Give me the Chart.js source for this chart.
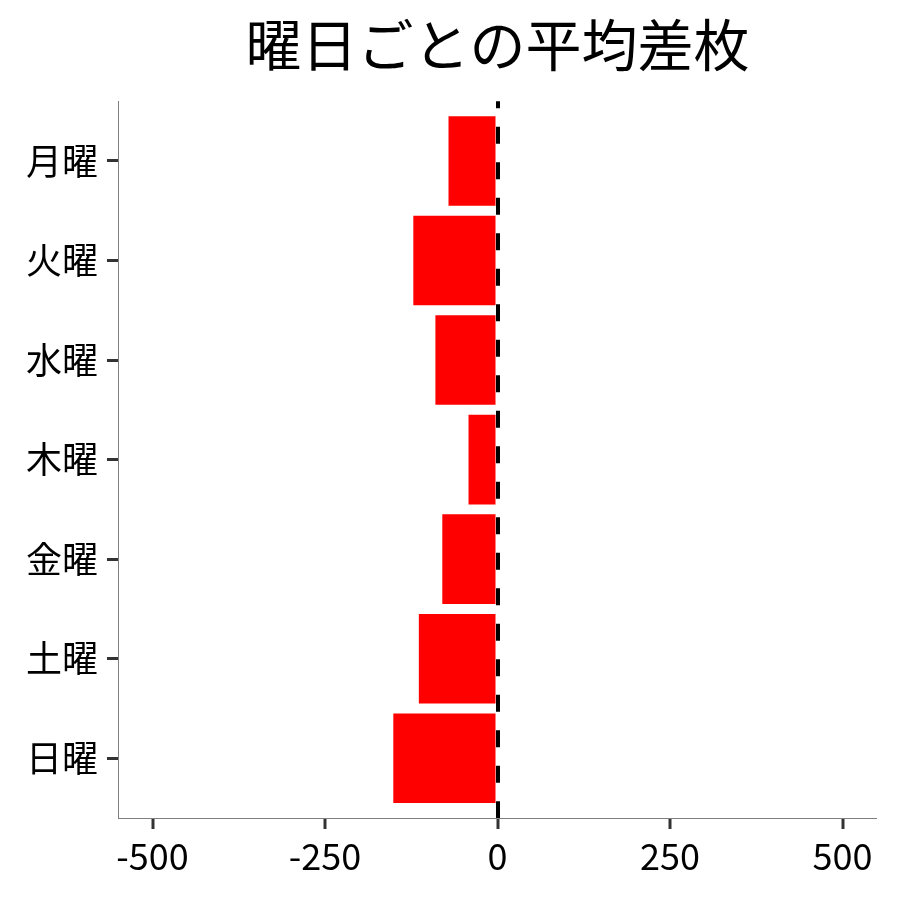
<!DOCTYPE html>
<html>
<head>
<meta charset="utf-8">
<script src="https://cdn.jsdelivr.net/npm/chart.js@4"></script>
<style>
  body { margin: 0; background: #fff; }
  canvas { display: block; }
</style>
</head>
<body>
<canvas id="diffChart" width="900" height="900"></canvas>
<script>
const days = ['月曜', '火曜', '水曜', '木曜', '金曜', '土曜', '日曜'];
const avgDiff = [-71, -122, -90, -42, -80, -114, -151];
const xTicks = [-500, -250, 0, 250, 500];

const FONT = "'Noto Sans CJK JP', 'Noto Sans', sans-serif";

window.onload = () => {
  const ctx = document.getElementById('diffChart').getContext('2d');

  new Chart(ctx, {
    type: 'bar',
    data: {
      datasets: [{
        data: avgDiff.map((v, i) => ({ x: v, y: i })),
        backgroundColor: '#ff0000',
        borderWidth: 0,
        barPercentage: 0.9,
        categoryPercentage: 1
      }]
    },
    options: {
      indexAxis: 'y',
      responsive: false,
      animation: false,
      devicePixelRatio: 1,
      layout: { padding: { left: 0, right: 23, top: 0, bottom: 0 } },
      plugins: {
        legend: { display: false },
        tooltip: { enabled: false },
        title: {
          display: true,
          text: '曜日ごとの平均差枚',
          fullSize: false,
          color: '#000',
          font: { family: FONT, size: 56, weight: 'normal', lineHeight: 1.2 },
          padding: { top: 11, bottom: 23 }
        }
      },
      scales: {
        x: {
          type: 'linear',
          min: -550,
          max: 550,
          afterBuildTicks: s => { s.ticks = xTicks.map(v => ({ value: v })); },
          afterFit: s => { s.height = 82; },
          ticks: {
            color: '#000',
            padding: 6,
            font: { family: FONT, size: 36 },
            callback: v => String(v)
          },
          grid: {
            z: 1,
            drawOnChartArea: true,
            color: c => (c.tick && c.tick.value === 0 ? '#000' : 'rgba(0,0,0,0)'),
            lineWidth: c => (c.tick && c.tick.value === 0 ? 4 : 0),
            tickColor: '#333',
            tickWidth: 3,
            tickLength: 11
          },
          border: { display: true, z: 1, color: '#7f7f7f', width: 1, dash: [17, 18.5], dashOffset: 10 }
        },
        y: {
          type: 'linear',
          reverse: true,
          offset: false,
          min: -0.6,
          max: days.length - 0.4,
          afterBuildTicks: s => { s.ticks = days.map((d, i) => ({ value: i })); },
          afterFit: s => { s.width = 118; },
          ticks: {
            color: '#000',
            padding: 9,
            font: { family: FONT, size: 36 },
            callback: v => days[v]
          },
          grid: {
            offset: false,
            drawOnChartArea: false,
            tickColor: '#333',
            tickWidth: 3,
            tickLength: 11
          },
          border: { display: true, color: '#7f7f7f', width: 1 }
        }
      }
    }
  });
};
</script>
</body>
</html>
